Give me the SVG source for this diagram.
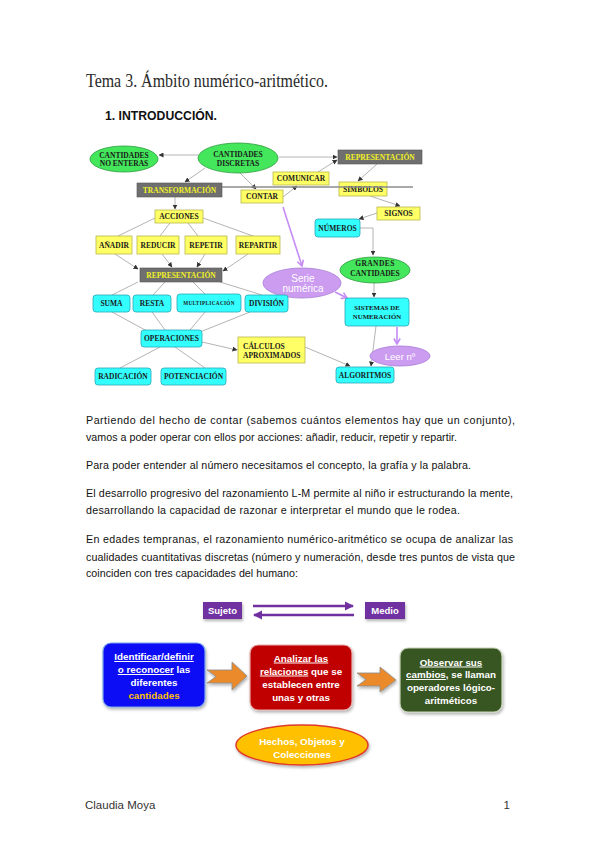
<svg xmlns="http://www.w3.org/2000/svg" width="599" height="848" viewBox="0 0 599 848">
<style>
.y{fill:#ffff66;stroke:#b9b84c;stroke-width:0.8}
.c{fill:#33ffff;stroke:#2aa6b6;stroke-width:0.8}
.g{fill:#6f6f6f;stroke:#555;stroke-width:0.6}
.gr{fill:#44e65c;stroke:#2a9a3a;stroke-width:0.8}
.p{fill:#cc9cf0;stroke:#a47ad6;stroke-width:0.8}
.t{font-family:"Liberation Serif",serif;font-weight:bold;font-size:7.5px;fill:#1a1a1a;text-anchor:middle}
.ty{fill:#f2f224}
.ln{stroke:#b4b4b4;stroke-width:1;fill:none}
.ar{marker-end:url(#ah)}
.pl{stroke:#c68cf6;stroke-width:1.6;fill:none;marker-end:url(#ph)}
.pt{font-family:"Liberation Sans",sans-serif;font-size:10px;fill:#ffffff;text-anchor:middle}
.body{font-family:"Liberation Sans",sans-serif;font-size:10.7px;fill:#111111}
.bx{font-family:"Liberation Sans",sans-serif;font-weight:bold;font-size:9.8px;fill:#ffffff;text-anchor:middle}
.u{text-decoration:underline}
.oa{fill:#ea8a2c;stroke:#8c8c8c;stroke-width:0.8}
.pa{stroke:#7030a0;stroke-width:2.6;fill:none}
</style>
<defs>
<marker id="ah" markerWidth="5" markerHeight="5" refX="4.5" refY="2.5" orient="auto" markerUnits="userSpaceOnUse"><path d="M0,0 L5,2.5 L0,5 z" fill="#333"/></marker>
<marker id="ph" markerWidth="8" markerHeight="8" refX="6.5" refY="4" orient="auto" markerUnits="userSpaceOnUse"><path d="M1,0.8 L6.5,4 L1,7.2" fill="none" stroke="#c68cf6" stroke-width="1.6"/></marker>
<marker id="pah" markerWidth="10" markerHeight="10" refX="8" refY="5" orient="auto" markerUnits="userSpaceOnUse"><path d="M0,0.5 L9,5 L0,9.5 z" fill="#7030a0"/></marker>
<filter id="sh" x="-20%" y="-20%" width="140%" height="150%"><feDropShadow dx="1" dy="2" stdDeviation="1.5" flood-color="#000" flood-opacity="0.3"/></filter>
</defs>
<rect width="599" height="848" fill="#ffffff"/>

<text x="86" y="87" font-family="Liberation Serif,serif" font-size="18" fill="#2a2a2a" textLength="242" lengthAdjust="spacingAndGlyphs">Tema 3. Ámbito numérico-aritmético.</text>
<text x="105" y="120" font-family="Liberation Sans,sans-serif" font-weight="bold" font-size="12" fill="#111" textLength="112" lengthAdjust="spacingAndGlyphs">1.  INTRODUCCIÓN.</text>

<g id="connectors">
<line class="ln ar" x1="198" y1="155" x2="159" y2="155"/>
<line class="ln ar" x1="279" y1="157" x2="337" y2="157"/>
<line class="ln ar" x1="205" y1="168" x2="185" y2="182"/>
<line class="ln ar" x1="240" y1="173" x2="256" y2="189"/>
<line class="ln ar" x1="283" y1="197" x2="297" y2="186"/>
<line class="ln ar" x1="318" y1="172" x2="337" y2="160"/>
<line class="ln ar" x1="377" y1="164" x2="358" y2="181"/>
<line class="ln ar" x1="370" y1="196" x2="400" y2="206"/>
<line class="ln ar" x1="377" y1="213" x2="359" y2="219"/>
<polyline class="ln ar" points="360,228 373,228 373,255"/>
<line class="ln ar" x1="374" y1="283" x2="374" y2="297"/>
<line class="ln ar" x1="175" y1="197" x2="175" y2="209"/>
<line class="ln" x1="155" y1="218" x2="118" y2="236"/>
<line class="ln" x1="170" y1="223" x2="160" y2="236"/>
<line class="ln" x1="188" y1="223" x2="198" y2="236"/>
<line class="ln" x1="203" y1="218" x2="253" y2="236"/>
<line class="ln ar" x1="115" y1="254" x2="138" y2="269"/>
<line class="ln ar" x1="162" y1="254" x2="172" y2="267"/>
<line class="ln ar" x1="205" y1="254" x2="197" y2="267"/>
<line class="ln ar" x1="248" y1="254" x2="223" y2="271"/>
<line class="ln" x1="138" y1="282" x2="112" y2="295"/>
<line class="ln" x1="165" y1="282" x2="153" y2="295"/>
<line class="ln" x1="193" y1="282" x2="205" y2="294"/>
<line class="ln" x1="220" y1="282" x2="262" y2="295"/>
<line class="ln" x1="112" y1="312" x2="147" y2="331"/>
<line class="ln" x1="152" y1="312" x2="165" y2="330"/>
<line class="ln" x1="205" y1="312" x2="190" y2="330"/>
<line class="ln" x1="250" y1="312" x2="200" y2="332"/>
<line class="ln" x1="160" y1="347" x2="120" y2="368"/>
<line class="ln" x1="175" y1="347" x2="205" y2="368"/>
<line class="ln ar" x1="202" y1="342" x2="237" y2="350"/>
<line class="ln ar" x1="305" y1="347" x2="350" y2="366"/>
<line class="ln ar" x1="376" y1="326" x2="371" y2="366"/>
<line class="pl" x1="283" y1="207" x2="302" y2="266"/>
<line class="pl" x1="335" y1="292" x2="347" y2="298"/>
<line class="pl" x1="397" y1="327" x2="397" y2="344"/>
</g>

<g id="n-noenteras"><ellipse class="gr" cx="124" cy="159" rx="34" ry="13"/><text class="t" x="124" y="158">CANTIDADES</text><text class="t" x="124" y="166">NO ENTERAS</text></g>
<g id="n-discretas"><ellipse class="gr" cx="238" cy="158" rx="40" ry="15"/><text class="t" x="238" y="156.5">CANTIDADES</text><text class="t" x="238" y="165.5">DISCRETAS</text></g>
<g id="n-rep1"><rect class="g" x="338" y="150" width="84" height="14"/><text class="t ty" x="380" y="159.6">REPRESENTACIÓN</text></g>
<g id="n-transf"><rect class="g" x="137" y="183" width="85" height="14"/><text class="t ty" x="179.5" y="192.6">TRANSFORMACIÓN</text></g>
<g id="n-comunicar"><rect class="y" x="273" y="172" width="56" height="13"/><text class="t" x="301" y="181.1">COMUNICAR</text></g>
<g id="n-contar"><rect class="y" x="241" y="190" width="42" height="13"/><text class="t" x="262" y="199.1">CONTAR</text></g>
<g id="n-simbolos"><rect class="y" x="339" y="182" width="48" height="14"/><text class="t" x="363" y="191.6">SIMBOLOS</text></g>
<line x1="222" y1="187" x2="413" y2="187" stroke="#8c8c8c" stroke-width="1.3"/>
<g id="n-signos"><rect class="y" x="377" y="207" width="43" height="13"/><text class="t" x="398.5" y="216.1">SIGNOS</text></g>
<g id="n-numeros"><rect class="c" x="315" y="219" width="45" height="18" rx="3"/><text class="t" x="337.5" y="230.6">NÚMEROS</text></g>
<g id="n-grandes"><ellipse class="gr" cx="375" cy="270" rx="35" ry="13"/><text class="t" x="375" y="265.5" letter-spacing="0.4">GRANDES</text><text class="t" x="375" y="275.5">CANTIDADES</text></g>
<g id="n-serie"><ellipse class="p" cx="302" cy="283" rx="39" ry="15"/><text class="pt" x="303" y="281.5">Serie</text><text class="pt" x="303" y="291.5">numérica</text></g>
<g id="n-sistemas"><rect class="c" x="345" y="298" width="64" height="28" rx="3"/><text class="t" x="377" y="309.5" style="font-size:6.8px">SISTEMAS DE</text><text class="t" x="377" y="318.5" style="font-size:6.8px">NUMERACIÓN</text></g>
<g id="n-leer"><ellipse class="p" cx="400" cy="356" rx="30" ry="10"/><text class="pt" x="400" y="359.5" style="font-size:9.5px">Leer nº</text></g>
<g id="n-algoritmos"><rect class="c" x="336" y="367" width="58" height="16" rx="3"/><text class="t" x="365" y="377.6">ALGORITMOS</text></g>
<g id="n-calculos"><rect class="y" x="238" y="337" width="67" height="26"/><text class="t" x="243" y="348.5" style="text-anchor:start">CÁLCULOS</text><text class="t" x="243" y="357.5" style="text-anchor:start">APROXIMADOS</text></g>
<g id="n-acciones"><rect class="y" x="155" y="210" width="48" height="13"/><text class="t" x="179" y="219.1">ACCIONES</text></g>
<g id="n-anadir"><rect class="y" x="96" y="236" width="36" height="18"/><text class="t" x="114" y="247.6">AÑADIR</text></g>
<g id="n-reducir"><rect class="y" x="137" y="236" width="42" height="18"/><text class="t" x="158" y="247.6">REDUCIR</text></g>
<g id="n-repetir"><rect class="y" x="185" y="236" width="42" height="18"/><text class="t" x="206" y="247.6">REPETIR</text></g>
<g id="n-repartir"><rect class="y" x="236" y="236" width="44" height="18"/><text class="t" x="258" y="247.6">REPARTIR</text></g>
<g id="n-rep2"><rect class="g" x="140" y="268" width="82" height="14"/><text class="t ty" x="181" y="277.6">REPRESENTACIÓN</text></g>
<g id="n-suma"><rect class="c" x="93" y="295" width="37" height="17" rx="3"/><text class="t" x="111.5" y="306.1">SUMA</text></g>
<g id="n-resta"><rect class="c" x="133" y="295" width="38" height="17" rx="3"/><text class="t" x="152" y="306.1">RESTA</text></g>
<g id="n-multi"><rect class="c" x="177" y="294" width="64" height="18" rx="3"/><text class="t" x="209" y="304.8" style="font-size:5.2px" letter-spacing="0.35">MULTIPLICACIÓN</text></g>
<g id="n-division"><rect class="c" x="245" y="295" width="43" height="17" rx="3"/><text class="t" x="266.5" y="306.1">DIVISIÓN</text></g>
<g id="n-operaciones"><rect class="c" x="141" y="330" width="61" height="17" rx="3"/><text class="t" x="171.5" y="341.1">OPERACIONES</text></g>
<g id="n-radicacion"><rect class="c" x="95" y="368" width="56" height="17" rx="3"/><text class="t" x="123" y="379.1">RADICACIÓN</text></g>
<g id="n-potenciacion"><rect class="c" x="161" y="368" width="65" height="17" rx="3"/><text class="t" x="193.5" y="379.1">POTENCIACIÓN</text></g>

<g id="body-text" class="body">
<text x="86" y="424" textLength="429" lengthAdjust="spacing">Partiendo del hecho de contar (sabemos cuántos elementos hay que un conjunto),</text>
<text x="86" y="441" textLength="371" lengthAdjust="spacing">vamos a poder operar con ellos por acciones: añadir, reducir, repetir y repartir.</text>
<text x="86" y="469" textLength="385" lengthAdjust="spacing">Para poder entender al número necesitamos el concepto, la grafía y la palabra.</text>
<text x="86" y="497" textLength="427" lengthAdjust="spacing">El desarrollo progresivo del razonamiento L-M permite al niño ir estructurando la mente,</text>
<text x="86" y="514" textLength="374" lengthAdjust="spacing">desarrollando la capacidad de razonar e interpretar el mundo que le rodea.</text>
<text x="86" y="543" textLength="427" lengthAdjust="spacing">En edades tempranas, el razonamiento numérico-aritmético se ocupa de analizar las</text>
<text x="86" y="561" textLength="429" lengthAdjust="spacing">cualidades cuantitativas discretas (número y numeración, desde tres puntos de vista que</text>
<text x="86" y="577" textLength="212" lengthAdjust="spacing">coinciden con tres capacidades del humano:</text>
</g>

<g id="n-sujeto"><rect x="203" y="602" width="39" height="17" fill="#7030a0" filter="url(#sh)"/><text class="bx" x="222.5" y="614" style="font-size:9.5px">Sujeto</text></g>
<g id="n-medio"><rect x="365" y="602" width="40" height="17" fill="#7030a0" filter="url(#sh)"/><text class="bx" x="385" y="614" style="font-size:9.5px">Medio</text></g>
<g id="purple-arrows">
<line class="pa" x1="253" y1="606" x2="353" y2="606" marker-end="url(#pah)"/>
<line class="pa" x1="354" y1="615" x2="254" y2="615" marker-end="url(#pah)"/>
</g>

<g id="n-identificar"><rect x="103" y="643" width="102" height="64" rx="8" fill="#0d0df5" stroke="#7aa6e8" stroke-width="1.2" filter="url(#sh)"/>
<text class="bx" x="154" y="660"><tspan class="u">Identificar/definir</tspan></text>
<text class="bx" x="154" y="673"><tspan class="u">o reconocer</tspan> las</text>
<text class="bx" x="154" y="686">diferentes</text>
<text class="bx" x="154" y="699" style="fill:#ffc000">cantidades</text></g>
<g id="arrow1"><path class="oa" d="M207,670 L232,670 L232,662 L247,676 L232,690 L232,683 L207,683 L216,676.5 z" filter="url(#sh)"/></g>
<g id="n-analizar"><rect x="250" y="645" width="102" height="65" rx="8" fill="#c00000" stroke="#e8b0b0" stroke-width="1.2" filter="url(#sh)"/>
<text class="bx" x="301" y="661.5"><tspan class="u">Analizar las</tspan></text>
<text class="bx" x="301" y="674.5"><tspan class="u">relaciones</tspan> que se</text>
<text class="bx" x="301" y="687.5">establecen entre</text>
<text class="bx" x="301" y="700.5">unas y otras</text></g>
<g id="arrow2"><path class="oa" d="M357,673 L380,673 L380,667 L396,680 L380,692 L380,686 L357,686 L366,679.5 z" filter="url(#sh)"/></g>
<g id="n-observar"><rect x="400" y="648" width="102" height="64" rx="8" fill="#385620" stroke="#c8d4bc" stroke-width="1.2" filter="url(#sh)"/>
<text class="bx" x="451" y="665.5"><tspan class="u">Observar sus</tspan></text>
<text class="bx" x="451" y="678"><tspan class="u">cambios</tspan>, se llaman</text>
<text class="bx" x="451" y="691">operadores lógico-</text>
<text class="bx" x="451" y="704">aritméticos</text></g>
<g id="n-hechos"><ellipse cx="302" cy="745" rx="66" ry="20" fill="#ffc000" stroke="#e03a2a" stroke-width="1.5" filter="url(#sh)"/>
<text class="bx" x="302" y="745">Hechos, Objetos y</text>
<text class="bx" x="302" y="758">Colecciones</text></g>

<text x="85" y="809" font-family="Liberation Sans,sans-serif" font-size="11.5" fill="#333">Claudia Moya</text>
<text x="510" y="809" font-family="Liberation Sans,sans-serif" font-size="11.5" fill="#333" text-anchor="end">1</text>
</svg>
